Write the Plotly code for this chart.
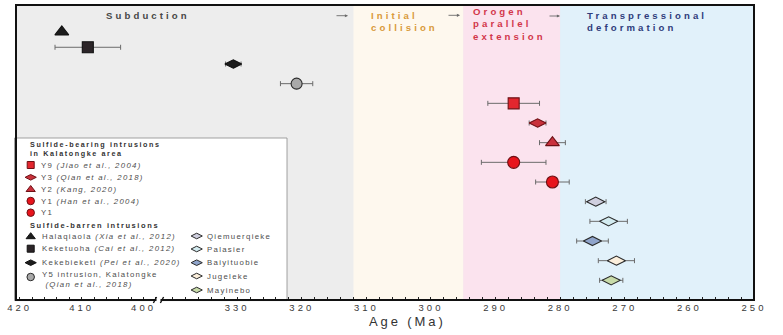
import plotly.graph_objects as go

# ---------------- data ----------------
sample_names = [
    "Halaqiaola", "Keketuoha", "Kekebieketi", "Y5",
    "Y9", "Y3", "Y2", "Y1 (Han)", "Y1",
    "Qiemuerqieke", "Palasier", "Baiyituobie", "Jugeleke", "Mayinebo",
]
ages_ma = [413.2, 409.0, 330.6, 320.8,
           287.2, 283.5, 281.2, 287.2, 281.2,
           274.5, 272.5, 275.0, 271.3, 272.1]
age_errors = [None, 5.3, 1.2, 2.5,
              4.0, 1.3, 2.0, 5.0, 2.6,
              1.6, 2.9, 2.45, 2.8, 1.8]

# tectonic stage boundaries (Ma) and their captions
stage_bounds_ma = [312, 295, 280, 250]
stage_captions = [
    ["Subduction"],
    ["Initial", "collision"],
    ["Orogen", "parallel", "extension"],
    ["Transpressional", "deformation"],
]

old_ticks = [420, 410, 400]
young_ticks = [330, 320, 310, 300, 290, 280, 270, 260, 250]

legend_bearing = [
    ("Y9", "Y9 <i>(Jiao et al., 2004)</i>"),
    ("Y3", "Y3 <i>(Qian et al., 2018)</i>"),
    ("Y2", "Y2 <i>(Kang, 2020)</i>"),
    ("Y1 (Han)", "Y1 <i>(Han et al., 2004)</i>"),
    ("Y1", "Y1"),
]
legend_barren_left = [
    ("Halaqiaola", "Halaqiaola <i>(Xia et al., 2012)</i>"),
    ("Keketuoha", "Keketuoha <i>(Cai et al., 2012)</i>"),
    ("Kekebieketi", "Kekebieketi <i>(Pei et al., 2020)</i>"),
    ("Y5", "Y5 intrusion, Kalatongke<br> <i>(Qian et al., 2018)</i>"),
]
legend_barren_right = ["Qiemuerqieke", "Palasier", "Baiyituobie", "Jugeleke", "Mayinebo"]

# ---------------- styling ----------------
FONT = "Liberation Sans, Arial, sans-serif"
RED_EDGE = "#6e1015"
DARK_EDGE = "#2a2a2a"
STYLE = {
    "Halaqiaola":  dict(symbol="triangle-up", color="#1c1c1c", edge="#111111", size=12),
    "Keketuoha":   dict(symbol="square", color="#2c2528", edge="#111111", size=11),
    "Kekebieketi": dict(symbol="diamond-wide", color="#1c1c1c", edge="#111111", size=12),
    "Y5":          dict(symbol="circle", color="#a9a9a9", edge=DARK_EDGE, size=11),
    "Y9":          dict(symbol="square", color="#e3262e", edge=RED_EDGE, size=11),
    "Y3":          dict(symbol="diamond-wide", color="#c9313b", edge=RED_EDGE, size=12),
    "Y2":          dict(symbol="triangle-up", color="#c9313d", edge=RED_EDGE, size=12),
    "Y1 (Han)":    dict(symbol="circle", color="#e8141c", edge=RED_EDGE, size=12),
    "Y1":          dict(symbol="circle", color="#e8141c", edge=RED_EDGE, size=12),
    "Qiemuerqieke": dict(symbol="diamond-wide", color="#cfcfdf", edge=DARK_EDGE, size=13),
    "Palasier":    dict(symbol="diamond-wide", color="#d3ebf0", edge=DARK_EDGE, size=13),
    "Baiyituobie": dict(symbol="diamond-wide", color="#8fa4cb", edge=DARK_EDGE, size=13),
    "Jugeleke":    dict(symbol="diamond-wide", color="#fcefdc", edge=DARK_EDGE, size=13),
    "Mayinebo":    dict(symbol="diamond-wide", color="#c8dba9", edge=DARK_EDGE, size=13),
}
LEGEND_SIZE = {"square": 7, "circle": 7.5, "triangle-up": 8, "diamond-wide": 8}
STAGE_FILL = ["#ededed", "#fef8ee", "#fbe3ee", "#e1f1fa"]
STAGE_TEXT = ["#474747", "#d99a3a", "#d2364a", "#2f3c7c"]

# vertical slot of each sample (top to bottom)
row_slot = [1.37, 2.15, 3, 4, 5, 6, 7, 8, 9, 10, 11, 12, 13, 14]

# pixel frame of the plotting area
W, H = 783, 335
L, R, T, B = 16, 754, 5, 300
split = (159 - L) / (R - L)          # where the broken axis jumps


def spaced(text, px):
    return f'<span style="letter-spacing:{px}px">{text}</span>'


def paper_x(px):
    return (px - L) / (R - L)


def paper_y(py):
    return (B - py) / (B - T)


fig = go.Figure()

# ---------------- samples ----------------
for name, age, err, row in zip(sample_names, ages_ma, age_errors, row_slot):
    st = STYLE[name]
    kw = {}
    if err is not None:
        kw["error_x"] = dict(type="data", array=[err], color="#6b6b6b", thickness=1, width=2.5)
    fig.add_trace(go.Scatter(
        x=[age], y=[row], mode="markers",
        xaxis="x" if age > 380 else "x2", yaxis="y",
        marker=dict(symbol=st["symbol"], size=st["size"], color=st["color"],
                    line=dict(color=st["edge"], width=1.1)),
        name=name, showlegend=False, hoverinfo="skip", **kw))

# ---------------- legend (drawn on a pixel-unit overlay axis) ----------------
annots = []


def text(x, y, s, size=7.8, color="#4d4d4d", bold=False, sp=1.3, anchor="left"):
    annots.append(dict(x=paper_x(x), y=paper_y(y), xref="paper", yref="paper",
                       text=spaced(s, sp), showarrow=False, xanchor=anchor,
                       yanchor="middle", align="left", borderpad=0,
                       font=dict(family=FONT, size=size, color=color,
                                 weight="bold" if bold else "normal")))


def legend_mark(x, y, key):
    st = STYLE[key]
    fig.add_trace(go.Scatter(
        x=[x], y=[y], mode="markers", xaxis="x3", yaxis="y3",
        marker=dict(symbol=st["symbol"], size=LEGEND_SIZE[st["symbol"]], color=st["color"],
                    line=dict(color=st["edge"], width=1)),
        showlegend=False, hoverinfo="skip"))


text(29, 148.5, "Sulfide-bearing intrusions<br>in Kalatongke area",
     size=7.2, color="#333333", bold=True, sp=1.6)
for (key, lab), y in zip(legend_bearing, [165, 177.3, 189.5, 201, 212.7]):
    legend_mark(30.7, y, key)
    text(39.5, y, lab)
text(29, 225, "Sulfide-barren intrusions", size=7.5, color="#333333", bold=True, sp=1.6)
for (key, lab), y in zip(legend_barren_left, [236.7, 248.7, 262.7, 279]):
    legend_mark(30.7, y - (2 if key == "Y5" else 0), key)
    text(41, y, lab)
for key, y in zip(legend_barren_right, [236, 249, 262.7, 276, 290]):
    legend_mark(196.7, y, key)
    text(205.5, y, key)

# ---------------- stage captions and arrows ----------------
caption_pos = [(105, 16), (370, 21), (472, 23.5), (586, 22)]
for (x, y), lines, col in zip(caption_pos, stage_captions, STAGE_TEXT):
    text(x, y, "<br>".join(lines), size=9.6, color=col, bold=True, sp=3.1)

for x0, x1, y in [(335, 348, 15.7), (447, 460, 15.3), (548, 560, 16)]:
    annots.append(dict(x=x1, y=y, ax=x0, ay=y, xref="x3", yref="y3", axref="x3", ayref="y3",
                       text="", showarrow=True, arrowhead=2, arrowsize=0.7,
                       arrowwidth=0.9, arrowcolor="#6a6a6a"))

# axis title
text(407, 321.5, "Age (Ma)", size=13, color="#333333", sp=2.9, anchor="center")

# ---------------- background stages, legend box, frame ----------------
shapes = [dict(type="rect", xref="paper", yref="paper", x0=0, x1=1, y0=0, y1=1,
               fillcolor=STAGE_FILL[0], line=dict(width=0), layer="below")]
for (a, b), col in zip(zip(stage_bounds_ma[:-1], stage_bounds_ma[1:]), STAGE_FILL[1:]):
    shapes.append(dict(type="rect", xref="x2", yref="paper", x0=a, x1=b, y0=0, y1=1,
                       fillcolor=col, line=dict(width=0), layer="below"))
shapes.append(dict(type="rect", xref="paper", yref="paper",
                   x0=-0.002, x1=paper_x(287), y0=-0.002, y1=paper_y(138),
                   fillcolor="white", line=dict(color="#8c8c8c", width=0.8), layer="below"))
shapes.append(dict(type="rect", xref="paper", yref="paper", x0=0, x1=1, y0=0, y1=1,
                   fillcolor="rgba(0,0,0,0)", line=dict(color="#111111", width=2), layer="above"))
# axis break marks
shapes.append(dict(type="rect", xref="paper", yref="paper", x0=paper_x(156.5), x1=paper_x(160.5),
                   y0=-0.008, y1=0.006, fillcolor="white", line=dict(width=0), layer="above"))
for xc in (155, 162):
    shapes.append(dict(type="line", xref="paper", yref="paper",
                       x0=paper_x(xc - 1.6), x1=paper_x(xc + 1.6),
                       y0=paper_y(303), y1=paper_y(297),
                       line=dict(color="#111111", width=1.4), layer="above"))


def x_axis(domain, rng, ticks):
    return dict(domain=domain, range=rng, anchor="y",
                showgrid=False, zeroline=False, showline=False,
                tickmode="array", tickvals=ticks,
                ticktext=[spaced(str(t), 3) for t in ticks],
                ticks="inside", ticklen=3.5, tickwidth=1, tickcolor="#222222",
                ticklabelstandoff=0,
                minor=dict(tickmode="linear", tick0=0, dtick=2, ticks="inside",
                           ticklen=3, tickwidth=1, tickcolor="#222222"),
                tickfont=dict(family=FONT, size=9.5, color="#3a3a3a"))


fig.update_layout(
    width=W, height=H,
    margin=dict(l=L, r=W - R, t=T, b=H - B, pad=0),
    paper_bgcolor="white", plot_bgcolor="rgba(0,0,0,0)",
    showlegend=False,
    xaxis=x_axis([0, split], [420.6, 397.5], old_ticks),
    xaxis2=x_axis([split, 1], [342.1, 250], young_ticks),
    yaxis=dict(domain=[0, 1], range=[15, 0], visible=False, anchor="x"),
    xaxis3=dict(domain=[0, 1], range=[L, R], visible=False, anchor="y3"),
    yaxis3=dict(domain=[0, 1], range=[B, T], visible=False, anchor="x3"),
    shapes=shapes, annotations=annots,
)

fig.write_html("out.html")
